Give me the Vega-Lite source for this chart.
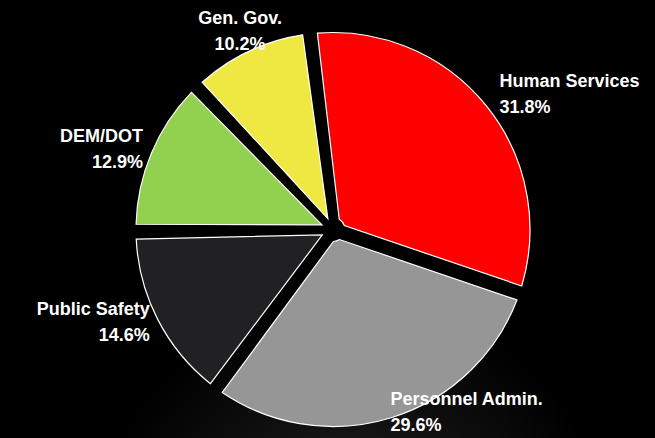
{
  "$schema": "https://vega.github.io/schema/vega-lite/v6.json",
  "width": 655,
  "height": 438,
  "autosize": {"type": "fit", "contains": "padding"},
  "padding": {"left": 11, "top": 20, "right": 0, "bottom": 0},
  "background": "#000000",
  "config": {"view": {"stroke": null}},
  "datasets": {
    "budget": [
      {"category": "Human Services", "value": 0.318},
      {"category": "Personnel Admin.", "value": 0.296},
      {"category": "Public Safety", "value": 0.146},
      {"category": "DEM/DOT", "value": 0.129},
      {"category": "Gen. Gov.", "value": 0.102}
    ]
  },
  "layer": [
    {
      "data": {"values": [{"bg": 1}]},
      "mark": {
        "type": "rect",
        "fill": {
          "gradient": "radial",
          "x1": 0.53, "y1": 1.0, "r1": 0,
          "x2": 0.53, "y2": 1.0, "r2": 0.4,
          "stops": [
            {"offset": 0, "color": "#2a2a2a"},
            {"offset": 0.5, "color": "#121212"},
            {"offset": 1, "color": "#000000"}
          ]
        }
      },
      "encoding": {}
    },
    {
      "data": {"name": "budget"},
      "mark": {"type": "arc", "outerRadius": 197, "innerRadius": 12, "padAngle": 0.075, "stroke": "#ffffff", "strokeWidth": 1.2},
      "encoding": {
        "theta": {"field": "value", "type": "quantitative", "stack": true, "scale": {"range": [-0.117, 6.166]}},
        "order": {"field": "value", "type": "quantitative", "sort": "descending"},
        "color": {
          "field": "category", "type": "nominal", "legend": null,
          "scale": {
            "domain": ["Human Services", "Personnel Admin.", "Public Safety", "DEM/DOT", "Gen. Gov."],
            "range": ["#ff0000", "#969696", "#212124", "#92d050", "#efe843"]
          }
        }
      }
    },
    {
      "data": {"name": "budget"},
      "mark": {
        "type": "text", "font": "Liberation Sans", "fontWeight": "bold", "fontSize": 18, "fill": "#ffffff",
        "baseline": "middle", "dy": -13,
        "radius": {"expr": "datum.category == 'Personnel Admin.' ? 192 : datum.category == 'Gen. Gov.' ? 218 : datum.category == 'Human Services' ? 214 : 206"},
        "align": {"expr": "datum.category == 'Human Services' || datum.category == 'Personnel Admin.' ? 'left' : datum.category == 'Gen. Gov.' ? 'center' : 'right'"}
      },
      "encoding": {
        "theta": {"field": "value", "type": "quantitative", "stack": true},
        "order": {"field": "value", "type": "quantitative", "sort": "descending"},
        "detail": {"field": "category", "type": "nominal"},
        "text": {"field": "category", "type": "nominal"}
      }
    },
    {
      "data": {"name": "budget"},
      "mark": {
        "type": "text", "font": "Liberation Sans", "fontWeight": "bold", "fontSize": 18, "fill": "#ffffff",
        "baseline": "middle", "dy": 13,
        "radius": {"expr": "datum.category == 'Personnel Admin.' ? 192 : datum.category == 'Gen. Gov.' ? 218 : datum.category == 'Human Services' ? 214 : 206"},
        "align": {"expr": "datum.category == 'Human Services' || datum.category == 'Personnel Admin.' ? 'left' : datum.category == 'Gen. Gov.' ? 'center' : 'right'"}
      },
      "encoding": {
        "theta": {"field": "value", "type": "quantitative", "stack": true},
        "order": {"field": "value", "type": "quantitative", "sort": "descending"},
        "detail": {"field": "category", "type": "nominal"},
        "text": {"field": "value", "type": "quantitative", "format": ".1%"}
      }
    }
  ]
}
